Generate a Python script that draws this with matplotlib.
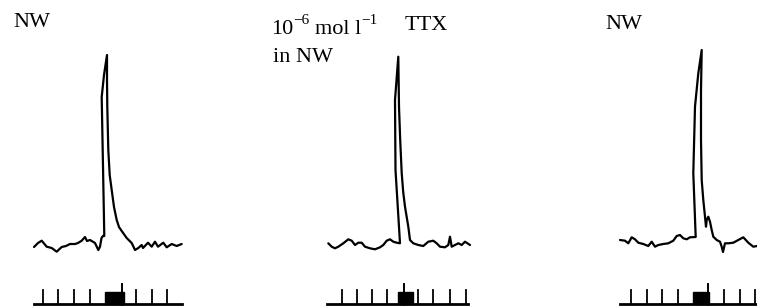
import matplotlib
matplotlib.use("Agg")
import matplotlib.pyplot as plt
from matplotlib.patches import Rectangle
import numpy as np

plt.rcParams['font.family'] = ['Liberation Serif', 'DejaVu Serif']

# traced recordings: t from start of sweep, v above resting level (same units for all panels)
t1 = [0, 4, 7.7, 12.7, 17.7, 22.7, 27.7, 32, 36, 41, 44, 47.7, 51, 53, 56, 61, 64.3, 66,
      67.5, 69, 70.3, 67.7, 70, 73, 73, 73.3, 74.3, 75.7, 77.7, 80, 82.7, 85, 87.7, 92.7,
      97.7, 101, 104.3, 107.7, 109, 114, 117.7, 121, 124, 129.3, 132.7, 137.7, 142.7, 147.7]
v1 = [-2, 2, 4.3, -1.7, -3, -6.7, -2, -1, 1, 1, 2, 4.3, 8, 4, 5, 2, -5, -1.7,
      7, 9, 9, 148, 170, 190, 165, 138, 95, 70, 55, 38, 25, 18, 14, 7,
      2, -5, -3, 0, -3, 2.3, -1.7, 3.3, -1.7, 2.3, -2.3, 1, -1, 1]

t2 = [0.3, 3.7, 7, 10.3, 15.3, 20.3, 23.7, 27, 30.3, 33.7, 37, 42, 47, 52, 55.3, 58.7,
      62, 65.3, 68.7, 72, 67.5, 67, 70.3, 71, 72.2, 73.7, 75.2, 77, 80.3, 82, 85.3, 90.3,
      95.3, 100.3, 105.3, 108.7, 112, 117, 120.3, 122, 123.7, 127, 130.3, 133.7, 137, 142]
v2 = [1.7, -1.7, -3.3, -1.7, 1.7, 5.7, 4.3, 0, 2.3, 2.3, -1.7, -3.3, -4.3, -2.3, 0, 4.3,
      5.7, 3.3, 2.3, 1.7, 75, 145, 188.3, 138.3, 105, 72, 53, 38.3, 18.3, 5, 1.7, 0,
      -1, 3.3, 4.3, 1.7, -1.7, -2.3, 0, 8.3, -1.7, 0, 1.7, 0, 3.3, 0]

t3 = [0, 5, 8.3, 11.7, 15, 18.3, 23.3, 28.3, 31.7, 35, 38.3, 43.3, 48.3, 53.3, 56.7, 60,
      63.3, 66.7, 70, 75.7, 73.3, 75, 78.3, 81.7, 81, 81, 81.7, 83.3, 85, 86, 86.7, 88.3,
      90, 91.7, 93.3, 96.7, 100, 101.7, 103, 105, 108.3, 113.3, 118.3, 123.3, 128.3,
      133.3, 137]
v3 = [5, 4.3, 1.7, 7.7, 5.7, 2.3, 1, -1, 3.3, -1.7, 0, 1, 1.7, 4.3, 9, 10,
      6.7, 5.7, 7.7, 8, 71.7, 138.3, 171.7, 195, 155, 105, 65, 45, 28.3, 18.3, 25, 28.3,
      23.3, 15, 8.3, 5, 3.3, -1.7, -7, 1.7, 1.7, 2.3, 5, 7.7, 2.3,
      -1.7, -1]

# stimulus marker: pulse times, burst (start, end), tall artefact, sweep start/end
stim_ticks1 = [8.7, 24.3, 40, 56, 102, 117.7, 133.3]
stim_ticks2 = [13.7, 28.7, 43.7, 59, 90.3, 105.3, 121.5, 138]
stim_ticks3 = [11, 26.5, 42, 57.5, 104, 120, 135]
burst1, burst2, burst3 = (71, 90), (69.5, 85.3), (73.3, 89)
tall1, tall2, tall3 = 87.7, 75.5, 88
sweep1, sweep2, sweep3 = (0, 147.7), (-1.3, 140), (0, 137)

W, H = 757, 307
fig = plt.figure(figsize=(W / 100, H / 100), dpi=100)
ax = fig.add_axes([0, 0, 1, 1])
ax.set_xlim(0, W)
ax.set_ylim(H, 0)
ax.axis('off')

origins = [34, 328, 620]
rest_y = 245
stim_y = 303.5

panels = [
    (t1, v1, stim_ticks1, burst1, tall1, sweep1),
    (t2, v2, stim_ticks2, burst2, tall2, sweep2),
    (t3, v3, stim_ticks3, burst3, tall3, sweep3),
]

for x0, (t, v, ticks, burst, tall, sweep) in zip(origins, panels):
    tx = x0 + np.array(t)
    ty = rest_y - np.array(v)
    ax.plot(tx, ty, color='black', lw=1.6, solid_joinstyle='round', solid_capstyle='round')
    # stimulus trace
    ax.plot([x0 + sweep[0], x0 + sweep[1]], [stim_y, stim_y], color='black', lw=2.0)
    for tk in ticks:
        ax.plot([x0 + tk, x0 + tk], [stim_y, stim_y - 13.5], color='black', lw=1.3)
    ax.add_patch(Rectangle((x0 + burst[0], stim_y - 12), burst[1] - burst[0], 12,
                           facecolor='black', edgecolor='black', lw=1.0))
    ax.plot([x0 + tall, x0 + tall], [stim_y + 1.5, stim_y - 19.5], color='black', lw=1.4)

fs = 16
sfs = 11
ax.text(13.3, 27.3, 'NW', fontsize=fs, va='baseline', ha='left')
ax.text(271, 34, '10', fontsize=fs, va='baseline', ha='left')
ax.text(293, 24.5, '\u22126', fontsize=sfs, va='baseline', ha='left')
ax.text(315, 34, 'mol l', fontsize=fs, va='baseline', ha='left')
ax.text(361.5, 24.5, '\u22121', fontsize=sfs, va='baseline', ha='left')
ax.text(273.3, 61.7, 'in NW', fontsize=fs, va='baseline', ha='left')
ax.text(405, 29.5, 'TTX', fontsize=fs, va='baseline', ha='left')
ax.text(605, 29.3, 'NW', fontsize=fs, va='baseline', ha='left')

fig.savefig('out.png', dpi=100)
